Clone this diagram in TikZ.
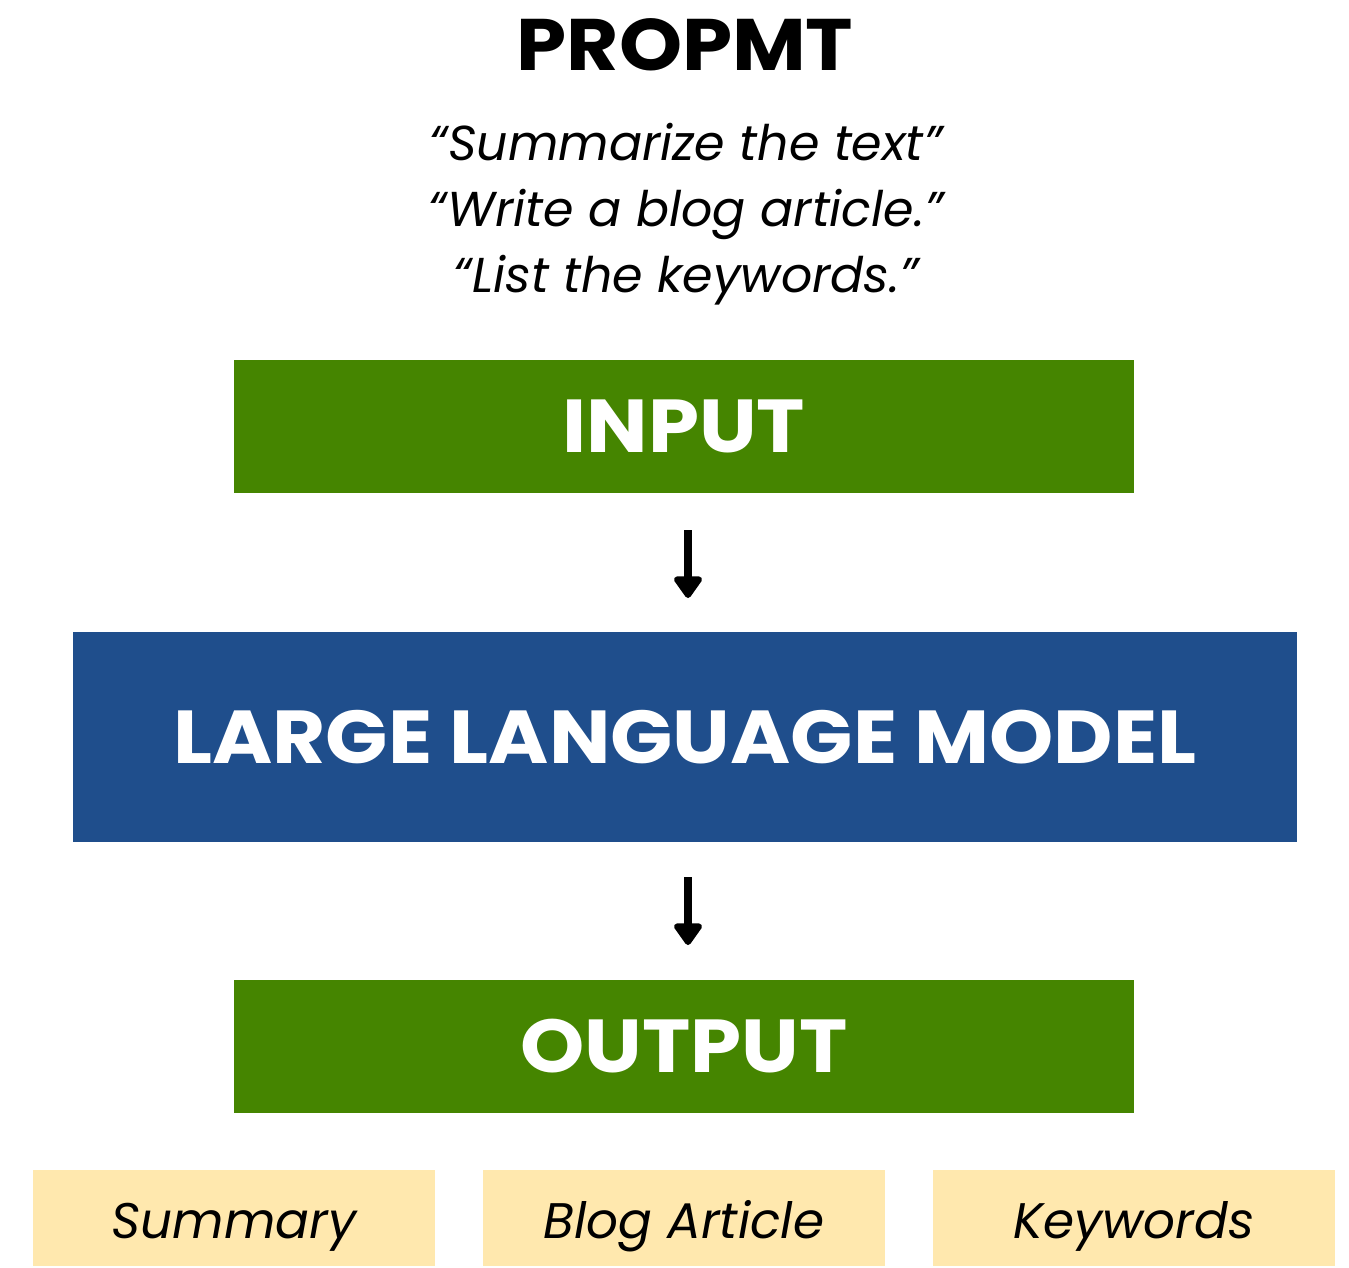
\documentclass[tikz,border=0pt]{standalone}
\usepackage{fontspec}
\setmainfont{Poppins}
\newfontfamily\widefont[FakeStretch=1.09]{Poppins}
\newfontfamily\titlefont[FakeStretch=1.1]{Poppins}
\usetikzlibrary{arrows.meta}
\definecolor{boxgreen}{HTML}{458500}
\definecolor{boxblue}{HTML}{1F4E8C}
\definecolor{boxyellow}{HTML}{FFE8AE}
\tikzset{
  greenbox/.style={fill=boxgreen, text=white, font=\widefont\fontsize{75}{90}\selectfont\bfseries, minimum width=900pt, minimum height=133pt, inner sep=0pt},
  bluebox/.style={fill=boxblue, text=white, font=\widefont\fontsize{75}{90}\selectfont\bfseries, minimum width=1224pt, minimum height=210pt, inner sep=0pt},
  yellowbox/.style={fill=boxyellow, text=black, font=\fontsize{50}{60}\selectfont\itshape, minimum width=402pt, minimum height=96pt, inner sep=0pt, text height=40pt, text depth=0pt},
  prompttext/.style={font=\fontsize{49}{58}\selectfont\itshape, inner sep=0pt, anchor=base},
  flowarrow/.style={-{Triangle[width=32pt,length=24pt,round]}, line width=8pt}
}
\begin{document}
\begin{tikzpicture}[x=1pt,y=-1pt]
\useasboundingbox (0,0) rectangle (1349,1267);
\node[font=\titlefont\fontsize{73}{84}\selectfont\bfseries, inner sep=0pt, anchor=base] (title) at (685,70) {PROPMT};
\node[prompttext] (p1) at (686,160) {“Summarize the text”};
\node[prompttext] (p2) at (686,226) {“Write a blog article.”};
\node[prompttext] (p3) at (686,292) {“List the keywords.”};
\node[greenbox] (input) at (684,426.5) {INPUT};
\node[bluebox] (llm) at (685,737) {LARGE LANGUAGE MODEL};
\node[greenbox] (output) at (684,1046.5) {OUTPUT};
\node[yellowbox] (sum) at (234,1218) {Summary};
\node[yellowbox] (blog) at (684,1218) {Blog Article};
\node[yellowbox] (kw) at (1134,1218) {Keywords};
\coordinate (a1s) at (688,530);
\coordinate (a1e) at (688,598);
\coordinate (a2s) at (688,877);
\coordinate (a2e) at (688,945);
\draw[flowarrow] (a1s) -- (a1e);
\draw[flowarrow] (a2s) -- (a2e);
\end{tikzpicture}
\end{document}
